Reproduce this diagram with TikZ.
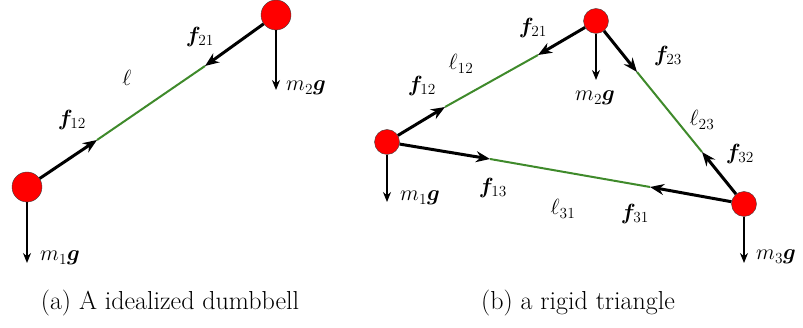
\RequirePackage{fix-cm}
\documentclass[tikz,border=0pt]{standalone}
\usepackage{amsmath,amssymb}
\usepackage{bm}
\usetikzlibrary{positioning,arrows.meta}
\definecolor{rod}{HTML}{3F8A2B}
\definecolor{ball}{HTML}{FF0000}

\begin{document}
\begin{tikzpicture}[x=1pt, y=-1pt, font=\fontsize{22}{24}\selectfont,
  mass/.style={circle, draw=black!75, fill=ball, minimum size=30pt, inner sep=0pt},
  smass/.style={mass, minimum size=25pt},
  force/.style={line width=3pt, -{Stealth[length=14pt,width=11pt]}},
  rodline/.style={draw=rod, line width=2pt},
  grav/.style={line width=1.2pt, -{Stealth[length=10pt,width=8pt]}},
  lbl/.style={inner sep=1pt},
  captext/.style={font=\fontsize{26}{28}\selectfont}
]
\useasboundingbox (0,0) rectangle (803,328);

% (a) dumbbell
\node[mass] (a1) at (27,187) {};
\node[mass] (a2) at (276,15) {};
\coordinate (a12) at (97,140);
\coordinate (a21) at (205,66);
\draw[rodline] (a12) -- (a21);
\draw[force] (a1) -- (a12);
\draw[force] (a2) -- (a21);
\coordinate (ag1) at (27,263);
\coordinate (ag2) at (276,90);
\draw[grav] (a1) -- (ag1);
\draw[grav] (a2) -- (ag2);
\node[lbl] (la12) at (72,120) {$\bm{f}_{12}$};
\node[lbl] (la21) at (200,37) {$\bm{f}_{21}$};
\node[lbl] (lal) at (127,78) {$\ell$};
\node[lbl] (lag1) at (60,258) {$m_1\bm{g}$};
\node[lbl] (lag2) at (306,88) {$m_2\bm{g}$};

% (b) triangle
\node[smass] (b1) at (387,142) {};
\node[smass] (b2) at (596,21) {};
\node[smass] (b3) at (744,204) {};
\coordinate (b12) at (445,107);
\coordinate (b21) at (538,55);
\coordinate (b23) at (637,72);
\coordinate (b32) at (702,152);
\coordinate (b13) at (490,159);
\coordinate (b31) at (650,187);
\draw[rodline] (b12) -- (b21);
\draw[rodline] (b23) -- (b32);
\draw[rodline] (b13) -- (b31);
\draw[force] (b1) -- (b12);
\draw[force] (b2) -- (b21);
\draw[force] (b2) -- (b23);
\draw[force] (b3) -- (b32);
\draw[force] (b1) -- (b13);
\draw[force] (b3) -- (b31);
\coordinate (bg1) at (387,202);
\coordinate (bg2) at (596,80);
\coordinate (bg3) at (744,263);
\draw[grav] (b1) -- (bg1);
\draw[grav] (b2) -- (bg2);
\draw[grav] (b3) -- (bg3);
\node[lbl] (lb21) at (533,28) {$\bm{f}_{21}$};
\node[lbl] (lb12) at (422,86) {$\bm{f}_{12}$};
\node[lbl] (lbl12) at (461,64) {$\ell_{12}$};
\node[lbl] (lb23) at (668,56) {$\bm{f}_{23}$};
\node[lbl] (lbl23) at (702,120) {$\ell_{23}$};
\node[lbl] (lb32) at (740,154) {$\bm{f}_{32}$};
\node[lbl] (lb13) at (493,188) {$\bm{f}_{13}$};
\node[lbl] (lbl31) at (563,209) {$\ell_{31}$};
\node[lbl] (lb31) at (635,214) {$\bm{f}_{31}$};
\node[lbl] (lbg1) at (420,198) {$m_1\bm{g}$};
\node[lbl] (lbg2) at (595,98) {$m_2\bm{g}$};
\node[lbl] (lbg3) at (776,257) {$m_3\bm{g}$};

% captions
\node[captext] (capa) at (170,303) {(a) A idealized dumbbell};
\node[captext] (capb) at (578,303) {(b) a rigid triangle};
\end{tikzpicture}
\end{document}
